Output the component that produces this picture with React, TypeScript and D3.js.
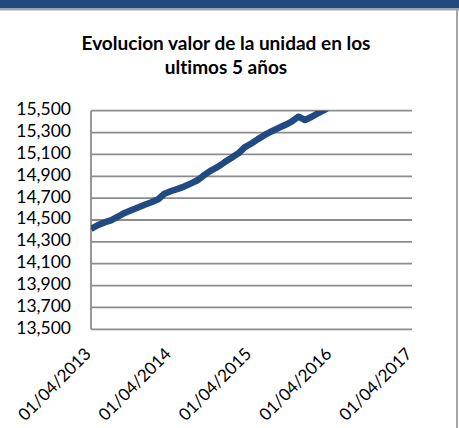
import * as d3 from "d3";

const W = 459;
const H = 428;
const M = { top: 110.7, right: 47, bottom: 98.7, left: 91 };

const TITLE = ["Evolucion valor de la unidad en los", "ultimos 5 años"];

// monthly values (first of each month)
const MONTHS = [
  "2013-04", "2013-05", "2013-06", "2013-07", "2013-08", "2013-09",
  "2013-10", "2013-11", "2013-12", "2014-01", "2014-02", "2014-03",
  "2014-04", "2014-05", "2014-06", "2014-07", "2014-08", "2014-09",
  "2014-10", "2014-11", "2014-12", "2015-01", "2015-02", "2015-03",
  "2015-04", "2015-05", "2015-06", "2015-07", "2015-08", "2015-09",
  "2015-10", "2015-11", "2015-12", "2016-01", "2016-02", "2016-03",
  "2016-04",
];
const VALUES = [
  14418, 14452, 14478, 14497, 14530, 14565,
  14590, 14615, 14640, 14662, 14690, 14740,
  14765, 14785, 14808, 14835, 14866, 14915,
  14955, 14988, 15030, 15070, 15110, 15165,
  15200, 15240, 15278, 15310, 15340, 15369,
  15400, 15445, 15415, 15445, 15480, 15510,
  15560,
];

const Y_TICKS = [13500, 13700, 13900, 14100, 14300, 14500, 14700, 14900, 15100, 15300, 15500];
const X_TICKS = ["2013-04", "2014-04", "2015-04", "2016-04", "2017-04"];

const parseMonth = (s: string) => {
  const [y, m] = s.split("-").map(Number);
  return new Date(y, m - 1, 1);
};
const fmtDate = (d: Date) =>
  `${String(d.getDate()).padStart(2, "0")}/${String(d.getMonth() + 1).padStart(2, "0")}/${d.getFullYear()}`;

const FONT = "Lato, 'Open Sans', sans-serif";

export default function App() {
  const x = d3
    .scaleTime()
    .domain([parseMonth(X_TICKS[0]), parseMonth(X_TICKS[X_TICKS.length - 1])])
    .range([M.left, W - M.right]);
  const y = d3.scaleLinear().domain([13500, 15500]).range([H - M.bottom, M.top]);

  const points = MONTHS.map((m, i) => ({ d: parseMonth(m), v: VALUES[i] }));
  const line = d3
    .line<{ d: Date; v: number }>()
    .x((p) => x(p.d))
    .y((p) => y(p.v));

  const fmt = d3.format(",");

  return (
    <svg
      width={W}
      height={H}
      style={{ position: "absolute", left: 0, top: 0, background: "#fff", fontVariantLigatures: "none" }}
    >
      <defs>
        <clipPath id="plot">
          <rect x={M.left} y={M.top} width={W - M.right - M.left} height={H - M.bottom - M.top} />
        </clipPath>
      </defs>

      {/* header band + frame */}
      <rect x={0} y={0} width={W} height={8.5} fill="#234a7e" />
      <line x1={0} x2={W} y1={9.5} y2={9.5} stroke="#a6a6a6" strokeWidth={2} />
      <line x1={457} x2={457} y1={9} y2={H} stroke="#a6a6a6" strokeWidth={2} />

      {TITLE.map((t, i) => (
        <text
          key={i}
          x={226}
          y={50 + i * 24}
          textAnchor="middle"
          fontFamily={FONT}
          fontWeight={700}
          fontSize={19}
          fill="#000"
        >
          {t}
        </text>
      ))}

      {/* gridlines + y labels */}
      {Y_TICKS.map((t) => (
        <g key={t}>
          <line
            x1={M.left}
            x2={W - M.right}
            y1={y(t)}
            y2={y(t)}
            stroke="#8c8c8c"
            strokeWidth={1.8}
          />
          <text
            x={71}
            y={y(t)}
            textAnchor="end"
            dominantBaseline="middle"
            fontFamily={FONT}
            fontSize={17.5}
            fill="#000"
          >
            {fmt(t)}
          </text>
        </g>
      ))}
      <line
        x1={M.left}
        x2={M.left}
        y1={M.top}
        y2={H - M.bottom}
        stroke="#8c8c8c"
        strokeWidth={1.8}
      />

      {/* x labels */}
      {X_TICKS.map((m) => {
        const d = parseMonth(m);
        const tx = x(d) + 1;
        const ty = 355;
        return (
          <text
            key={m}
            transform={`translate(${tx},${ty}) rotate(-45)`}
            textAnchor="end"
            fontFamily={FONT}
            fontSize={17}
            fill="#000"
          >
            {fmtDate(d)}
          </text>
        );
      })}

      <path
        d={line(points) ?? ""}
        fill="none"
        stroke="#1f4a82"
        strokeWidth={6.5}
        strokeLinejoin="round"
        clipPath="url(#plot)"
      />
    </svg>
  );
}
